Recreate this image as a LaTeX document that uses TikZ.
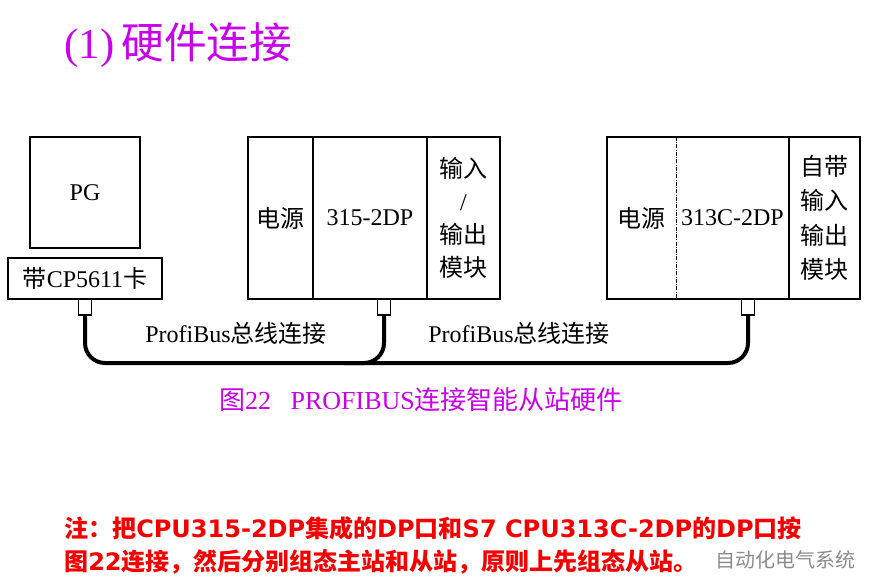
\documentclass[tikz,border=0pt]{standalone}
\usepackage{fontspec}
\setmainfont{Liberation Serif}
\newfontfamily\cjk{Noto Sans CJK SC}
\newfontfamily\djv{DejaVu Sans}
\usetikzlibrary{positioning}
\definecolor{titlepurple}{RGB}{200,0,235}
\definecolor{notered}{RGB}{245,0,0}

\begin{document}
\begin{tikzpicture}[
        x=0.75pt, y=-0.75pt,
        module/.style={rectangle, draw=black, line width=0.8pt, minimum height=121.5pt,
          inner sep=0pt, outer sep=0pt, align=center, font=\fontsize{18}{24.75}\selectfont},
        plain/.style={inner sep=0pt, outer sep=0pt, font=\fontsize{18}{24}\selectfont},
        plug/.style={rectangle, draw=black, line width=0.8pt, minimum width=9.75pt,
          minimum height=12pt, inner sep=0pt, outer sep=0pt},
        bus/.style={line width=3pt, rounded corners=15pt},
        purple/.style={text=titlepurple}
      ]
        \useasboundingbox (0,0) rectangle (878,576);

        \node (title) [purple, anchor=west, font=\fontsize{32}{36}\selectfont] at (60,45) {(1)\,{\cjk 硬件连接}};

        % PG with card
        \node (pg) [module, minimum width=82.5pt, minimum height=83.25pt, anchor=north west] at (30,137) {PG};
        \node (card) [module, minimum width=115.5pt, minimum height=30.75pt, anchor=north west] at (8,258) {{\cjk 带}CP5611{\cjk 卡}};

        % master station
        \node (ps1) [module, minimum width=48.75pt, anchor=north west] at (248,137) {{\cjk 电源}};
        \node (cpu1) [module, minimum width=85.5pt, right=0pt of ps1] {315-2DP};
        \node (io1) [module, minimum width=54.75pt, right=0pt of cpu1] {{\cjk 输入}\\/\\{\cjk 输出}\\{\cjk 模块}};

        % slave station
        \node (ps2) [module, draw=none, minimum width=51.75pt, anchor=north west] at (607,137) {{\cjk 电源}};
        \node (cpu2) [module, draw=none, minimum width=84.75pt, right=0pt of ps2] {313C-2DP};
        \node (io2) [module, draw=none, minimum width=53.25pt, right=0pt of cpu2,
          font=\fontsize{18}{25.7}\selectfont] {{\cjk 自带}\\{\cjk 输入}\\{\cjk 输出}\\{\cjk 模块}};
        \draw[line width=0.8pt] (ps2.north west) rectangle (io2.south east);
        \draw[line width=0.6pt, densely dashdotted] (ps2.north east) -- (ps2.south east);
        \draw[line width=0.8pt] (io2.north west) -- (io2.south west);

        % plugs and cable
        \node (plug1) [plug, anchor=north] at (card.south) {};
        \node (plug2) [plug, anchor=north] at (384,299) {};
        \node (plug3) [plug, anchor=north] at (748,299) {};

        \coordinate (busline) at (0,363);
        \draw[bus] (plug1.south) -- (plug1.south |- busline) -- (plug3.south |- busline) -- (plug3.south);
        \draw[bus] (plug2.south) -- (plug2.south |- busline) -- ++(-40,0);

        \node (bus1) [plain] at (236,333) {ProfiBus{\cjk 总线连接}};
        \node (bus2) [plain] at (519,333) {ProfiBus{\cjk 总线连接}};

        \node (caption) [purple, font=\fontsize{19.5}{22}\selectfont] at (421,400) {{\cjk 图}22\ \ \ PROFIBUS{\cjk 连接智能从站硬件}};

        % note
        \node (note) [anchor=north west, align=left, text=notered, inner sep=0pt,
          font=\fontsize{18}{25}\selectfont\bfseries] at (64,516)
          {{\cjk 注：把}{\djv CPU315-2DP}{\cjk 集成的}{\djv DP}{\cjk 口和}{\djv S7 CPU313C-2DP}{\cjk 的}{\djv DP}{\cjk 口按}\\
           {\cjk 图}{\djv 22}{\cjk 连接，然后分别组态主站和从站，原则上先组态从站。}};

        \node (mark) [text=black!45, font=\fontsize{15}{18}\selectfont] at (785,560) {{\cjk 自动化电气系统}};
      \end{tikzpicture}
\end{document}
